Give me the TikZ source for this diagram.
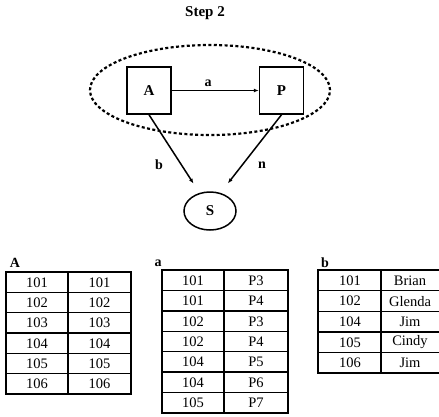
\documentclass[tikz,border=0pt]{standalone}
\usepackage{fontspec}
\setmainfont{Liberation Serif}
\usetikzlibrary{arrows.meta}
\usetikzlibrary{shapes.geometric}

\begin{document}
\begin{tikzpicture}[x=1pt, y=-1pt,
    entity/.style={draw, line width=1.5pt, minimum width=44pt, minimum height=47pt, inner sep=0pt, font=\fontsize{15}{17}\selectfont\bfseries},
    rel/.style={line width=1.5pt, -{Latex[open, length=5pt, width=4pt]}},
    lbl/.style={inner sep=0pt, font=\fontsize{14}{16}\selectfont\bfseries},
    tabline/.style={line width=1.4pt},
    cell/.style={inner sep=0pt, font=\fontsize{14.5}{16}\selectfont}]
    \useasboundingbox (0,0) rectangle (439,416);

    \node[lbl, font=\fontsize{15}{17}\selectfont\bfseries] (title) at (205,13) {Step 2};

    % dashed group round A and P
    \draw[line width=2.2pt, dash pattern=on 3pt off 2.4pt] (210,90) ellipse [x radius=120pt, y radius=45pt];

    \node[entity] (boxA) at (149,90.5) {A};
    \node[entity] (boxP) at (281.5,90.5) {P};
    \node[draw, ellipse, line width=1.5pt, minimum width=52pt, minimum height=38pt, inner sep=0pt,
          font=\fontsize{15}{17}\selectfont\bfseries] (circS) at (210,211) {S};

    \draw[rel] (boxA) -- (boxP);
    \node[lbl] (lbla) at (208,83) {a};
    \draw[rel, shorten >=11pt] (boxA.south) -- (circS.120);
    \draw[rel, shorten >=12pt] (boxP.south) -- (circS.60);
    \node[lbl] (lblb) at (159,165) {b};
    \node[lbl] (lbln) at (262,165) {n};

    % table A
    \node[lbl] (tabAname) at (15,263) {A};
    \draw[tabline] (6,272) rectangle (131,394);
    \draw[tabline] (68,272) -- (68,394);
    \foreach \v [count=\i] in {101,...,106} {
        \draw[tabline] (6,272+20.33*\i) -- (131,272+20.33*\i);
        \node[cell] (tabA-\i-1) at (37,262+20.33*\i) {\v};
        \node[cell] (tabA-\i-2) at (99.5,262+20.33*\i) {\v};
    }

    % table a
    \node[lbl] (tabaname) at (158,263) {a};
    \draw[tabline] (162,270) rectangle (288,413);
    \draw[tabline] (224,270) -- (224,413);
    \foreach \k/\p [count=\i] in {101/P3, 101/P4, 102/P3, 102/P4, 104/P5, 104/P6, 105/P7} {
        \draw[tabline] (162,270+20.43*\i) -- (288,270+20.43*\i);
        \node[cell] (taba-\i-1) at (193,260+20.43*\i) {\k};
        \node[cell] (taba-\i-2) at (256,260+20.43*\i) {\p};
    }

    % table b
    \node[lbl] (tabbname) at (325,263) {b};
    \draw[tabline] (318,270) rectangle (441,373);
    \draw[tabline] (381,270) -- (381,373);
    \foreach \k/\n [count=\i] in {101/Brian, 102/Glenda, 104/Jim, 105/Cindy, 106/Jim} {
        \draw[tabline] (318,270+20.6*\i) -- (441,270+20.6*\i);
        \node[cell] (tabb-\i-1) at (350,260+20.6*\i) {\k};
        \node[cell] (tabb-\i-2) at (410,260+20.6*\i) {\n};
    }
\end{tikzpicture}
\end{document}
